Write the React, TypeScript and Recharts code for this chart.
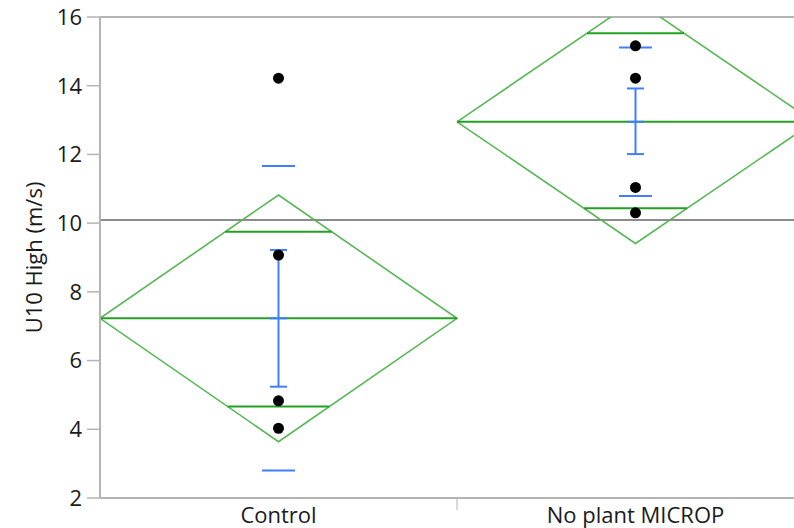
import { ComposedChart, Line, Scatter, ErrorBar, XAxis, YAxis, ReferenceLine } from "recharts"

const groups = ["Control", "No plant MICROP"];
const means = [7.23, 12.95];
const diamondTop = [10.82, 16.49];
const diamondBottom = [3.64, 9.41];
const overlapHigh = [9.75, 15.53];
const overlapLow = [4.66, 10.43];
const ciHigh = [9.22, 13.92];
const ciLow = [5.24, 12.01];
const sdHigh = [11.66, 15.11];
const sdLow = [2.8, 10.79];
const controlValues = [14.22, 9.07, 4.83, 4.03];
const microValues = [15.16, 14.22, 11.04, 10.3];
const grandMean = 10.09;
const yTicks = [2, 4, 6, 8, 10, 12, 14, 16];

const FONT = "'Open Sans', 'Noto Sans', sans-serif";
const GREEN = "#55b855";
const GREEN_DARK = "#22a022";
const BLUE = "#3f7fff";
const AXIS = "#b4b4b4";

// band centres on a 0..2 numeric axis
const centre = (i: number) => i + 0.5;

const diamonds = groups.map((_, i) => [
  { x: i, y: means[i] },
  { x: centre(i), y: diamondTop[i] },
  { x: i + 1, y: means[i] },
  { x: centre(i), y: diamondBottom[i] },
  { x: i, y: means[i] },
]);

// overlap marks span the diamond at their height
const overlapSeg = (i: number, v: number) => {
  const half = v >= means[i] ? diamondTop[i] - means[i] : means[i] - diamondBottom[i];
  const w = 0.5 * (1 - Math.abs(v - means[i]) / half);
  return [{ x: centre(i) - w, y: v }, { x: centre(i) + w, y: v }];
};

const meanData = groups.map((_, i) => ({
  x: centre(i),
  y: means[i],
  err: [means[i] - ciLow[i], ciHigh[i] - means[i]],
}));

const sdData = groups.flatMap((_, i) => [
  { x: centre(i), y: sdHigh[i] },
  { x: centre(i), y: sdLow[i] },
]);

const pointData = [
  ...controlValues.map((v) => ({ x: centre(0), y: v })),
  ...microValues.map((v) => ({ x: centre(1), y: v })),
];

const hLine = (w: number, color: string) => (p: any) => (
  <line x1={p.cx - w / 2} x2={p.cx + w / 2} y1={p.cy} y2={p.cy} stroke={color} strokeWidth={2} />
);

const XTick = (p: any) => {
  const { x, y, payload } = p;
  if (payload.value === 1) {
    return <line x1={x} x2={x} y1={y - 12} y2={y} stroke={AXIS} strokeWidth={1} />;
  }
  const idx = Math.floor(payload.value);
  return (
    <text x={x} y={y + 13} textAnchor="middle" fontSize={22} fontFamily={FONT} fill="#1a1a1a">
      {groups[idx]}
    </text>
  );
};

const YLabel = (p: any) => {
  const vb = p.viewBox || { x: 0, y: 17, width: 100, height: 481 };
  const cy = vb.y + vb.height / 2;
  const cx = vb.x + 42;
  return (
    <text x={cx} y={cy} transform={`rotate(-90, ${cx}, ${cy})`} textAnchor="middle" fontSize={22} fontFamily={FONT} fill="#1a1a1a">
      U10 High (m/s)
    </text>
  );
};

export default function App() {
  return (
    <div style={{ position: "absolute", left: 0, top: 0, width: 794, height: 528, overflow: "hidden", background: "#fff" }}>
      <ComposedChart width={830} height={528} margin={{ top: 17, right: 16, bottom: 0, left: 0 }}>
        <XAxis
          type="number"
          dataKey="x"
          domain={[0, 2]}
          ticks={[0.5, 1, 1.5]}
          allowDataOverflow
          height={30}
          tickSize={12}
          tickMargin={0}
          tickLine={false}
          axisLine={{ stroke: AXIS, strokeWidth: 2 }}
          tick={<XTick />}
        />
        <YAxis
          type="number"
          dataKey="y"
          domain={[2, 16]}
          ticks={yTicks}
          allowDataOverflow
          width={100}
          tickSize={13}
          tickMargin={5}
          axisLine={{ stroke: AXIS, strokeWidth: 2 }}
          tickLine={{ stroke: AXIS, strokeWidth: 1.5 }}
          tick={{ fontSize: 22, fontFamily: FONT, fill: "#1a1a1a" }}
          label={YLabel}
        />
        <ReferenceLine y={16} stroke={AXIS} strokeWidth={2} />
        <ReferenceLine y={grandMean} stroke="#8c8c8c" strokeWidth={2} />
        {diamonds.map((d, i) => (
          <Line key={"d" + i} data={d} dataKey="y" stroke={GREEN} strokeWidth={1.6} dot={false} isAnimationActive={false} />
        ))}
        {groups.map((_, i) => (
          <Line
            key={"m" + i}
            data={[{ x: i, y: means[i] }, { x: i + 1, y: means[i] }]}
            dataKey="y"
            stroke={GREEN_DARK}
            strokeWidth={2}
            dot={false}
            isAnimationActive={false}
          />
        ))}
        {groups.map((_, i) => (
          <Line key={"oh" + i} data={overlapSeg(i, overlapHigh[i])} dataKey="y" stroke={GREEN_DARK} strokeWidth={2} dot={false} isAnimationActive={false} />
        ))}
        {groups.map((_, i) => (
          <Line key={"ol" + i} data={overlapSeg(i, overlapLow[i])} dataKey="y" stroke={GREEN_DARK} strokeWidth={2} dot={false} isAnimationActive={false} />
        ))}
        <Scatter data={sdData} shape={hLine(33, BLUE)} isAnimationActive={false} />
        <Scatter data={meanData} shape={hLine(17, BLUE)} isAnimationActive={false}>
          <ErrorBar dataKey="err" direction="y" width={8.5} stroke={BLUE} strokeWidth={2} isAnimationActive={false} />
        </Scatter>
        <Scatter data={pointData} fill="#000" shape={(p: any) => <circle cx={p.cx} cy={p.cy} r={5.5} fill="#000" />} isAnimationActive={false} />
      </ComposedChart>
    </div>
  );
}
